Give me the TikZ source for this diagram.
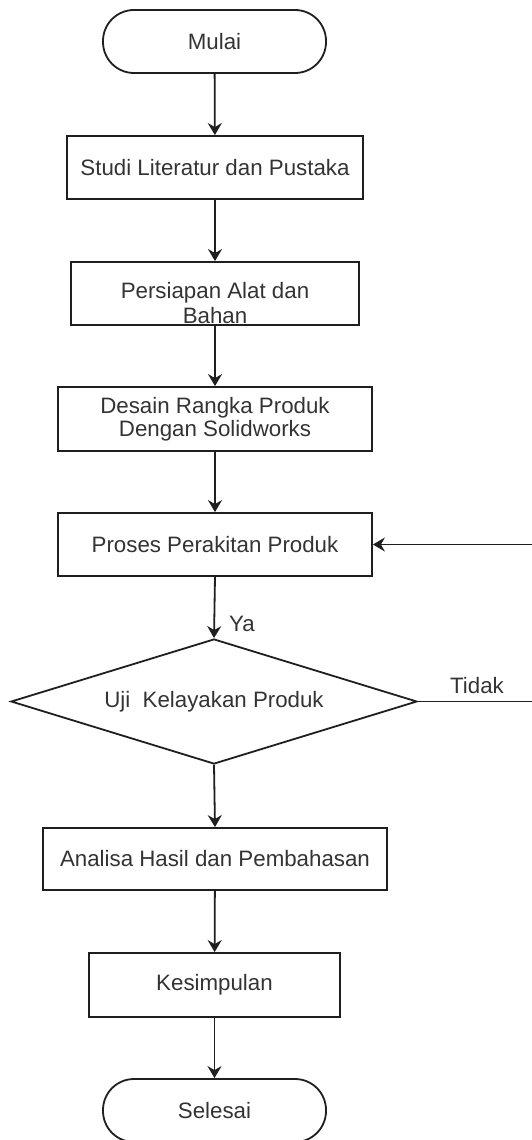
\documentclass[tikz,border=0pt]{standalone}
\usepackage{fontspec}
\setmainfont{Liberation Sans}
\usetikzlibrary{shapes.geometric,arrows.meta}
\begin{document}
\begin{tikzpicture}[x=1pt,y=-1pt,
  base/.style={draw=black!88,line width=1.8pt,inner sep=0pt,text=black!80,
    font=\fontsize{22.3}{23.5}\selectfont,align=center},
  terminal/.style={base,rectangle,rounded corners=31pt,minimum width=223pt,minimum height=63pt},
  procbox/.style={base,rectangle},
  decision/.style={base,diamond,shape aspect=3.25,minimum width=406pt,minimum height=125pt},
  lbl/.style={inner sep=0pt,text=black!80,font=\fontsize{22.3}{23.5}\selectfont},
  flow/.style={draw=black!88,line width=1.8pt,-{Stealth[width=14pt,length=12pt,inset=4pt]}},
  plain/.style={draw=black!88,line width=1.8pt}
]
\useasboundingbox (0,0) rectangle (532,1140);
\node[terminal] (mulai) at (214.5,41.5) {Mulai};
\node[procbox,minimum width=296pt,minimum height=63pt] (studi) at (215,167.5) {Studi Literatur dan Pustaka};
\node[procbox,minimum width=288pt,minimum height=63pt] (persiapan) at (215,293.5)
  {\raisebox{-13pt}[\height][\depth]{\begin{tabular}{@{}c@{}}Persiapan Alat dan\\[1pt]Bahan\end{tabular}}};
\node[procbox,minimum width=314pt,minimum height=64pt] (desain) at (215,419) {Desain Rangka Produk\\Dengan Solidworks};
\node[procbox,minimum width=314pt,minimum height=63pt] (proses) at (215,544.5) {Proses Perakitan Produk};
\node[decision] (uji) at (214,701.5) {Uji\ \ Kelayakan Produk};
\node[procbox,minimum width=344pt,minimum height=62pt] (analisa) at (215,859) {Analisa Hasil dan Pembahasan};
\node[procbox,minimum width=251pt,minimum height=64pt] (kesimpulan) at (214.5,985) {Kesimpulan};
\node[terminal] (selesai) at (214.5,1110.5) {Selesai};
\node[lbl,anchor=west] (ya) at (229,624) {Ya};
\node[lbl] (tidak) at (477,686) {Tidak};
\coordinate (c1) at (536,701.5);
\coordinate (c2) at (536,544.5);
\draw[flow] (mulai) -- (studi);
\draw[flow] (studi) -- (persiapan);
\draw[flow] (persiapan) -- (desain);
\draw[flow] (desain) -- (proses);
\draw[flow] (proses.south) -- (uji.north);
\draw[flow] (uji.south) -- (analisa.north);
\draw[flow] (analisa) -- (kesimpulan);
\draw[flow] (kesimpulan) -- (selesai);
\draw[flow] (uji.east) -- (c1) -- (c2) -- (proses.east);
\end{tikzpicture}
\end{document}
